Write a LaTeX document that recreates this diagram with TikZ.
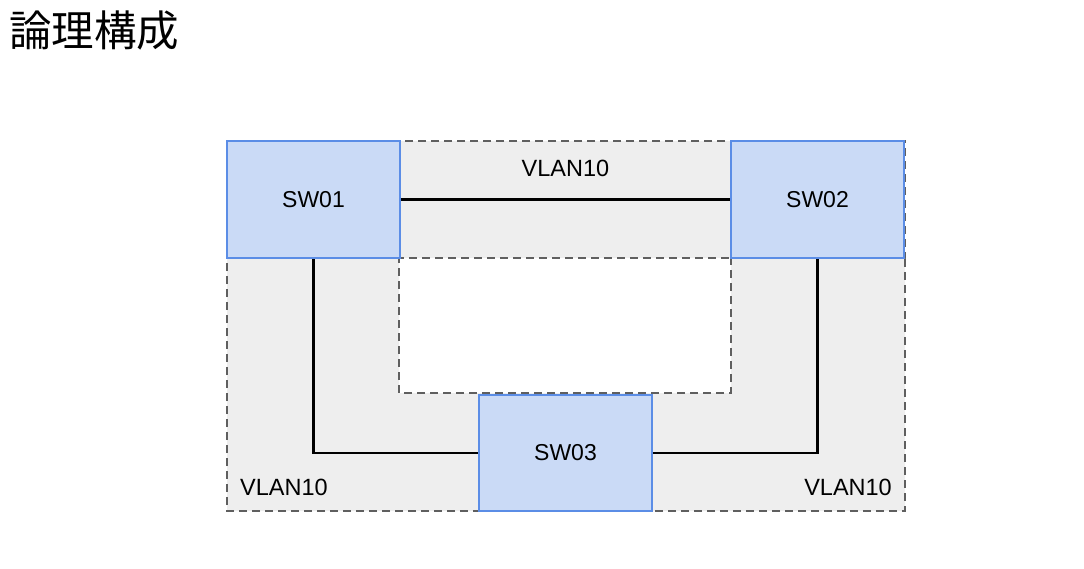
\documentclass[tikz,border=0pt]{standalone}
\usepackage{fontspec}
\setmainfont{Liberation Sans}
\newfontfamily\cjk{Noto Sans CJK JP}
\definecolor{boxfill}{HTML}{CADAF6}
\definecolor{boxline}{HTML}{5B8DE6}
\definecolor{zonefill}{HTML}{EEEEEE}
\definecolor{zoneline}{HTML}{5F5F5F}
\tikzset{
  swbox/.style={draw=boxline, fill=boxfill, line width=2.2pt, minimum width=173pt, minimum height=117pt, inner sep=0pt, font=\fontsize{23}{27}\selectfont},
  zone/.style={draw=zoneline, fill=zonefill, line width=2.2pt, dash pattern=on 8pt off 5pt},
  link/.style={draw=black, line width=2.2pt},
  lbl/.style={font=\fontsize{23.5}{27}\selectfont, inner sep=0pt}
}
\begin{document}
\begin{tikzpicture}[x=1pt,y=-1pt]
\useasboundingbox (0,0) rectangle (1084,569);
% title
\node[anchor=west, inner sep=0pt, font=\cjk\fontsize{42.5}{48}\selectfont] (title) at (9,31) {論理構成};
% zones
\draw[zone] (227,141) rectangle (905,258);
\draw[zone] (227,258) -- (399,258) -- (399,393) -- (731,393) -- (731,258) -- (905,258) -- (905,511) -- (227,511) -- cycle;
% labels
\node[lbl] (v1) at (565.5,168) {VLAN10};
\node[lbl, anchor=west] (v2) at (240,487) {VLAN10};
\node[lbl, anchor=east] (v3) at (892,487) {VLAN10};
% switches
\node[swbox] (sw1) at (313.5,199.5) {SW01};
\node[swbox] (sw2) at (817.5,199.5) {SW02};
\node[swbox, minimum height=116pt] (sw3) at (565.5,453) {SW03};
% links
\draw[link] (sw1.east) -- (sw2.west);
\draw[link] (sw1.south) |- (sw3.west);
\draw[link] (sw2.south) |- (sw3.east);
\end{tikzpicture}
\end{document}
